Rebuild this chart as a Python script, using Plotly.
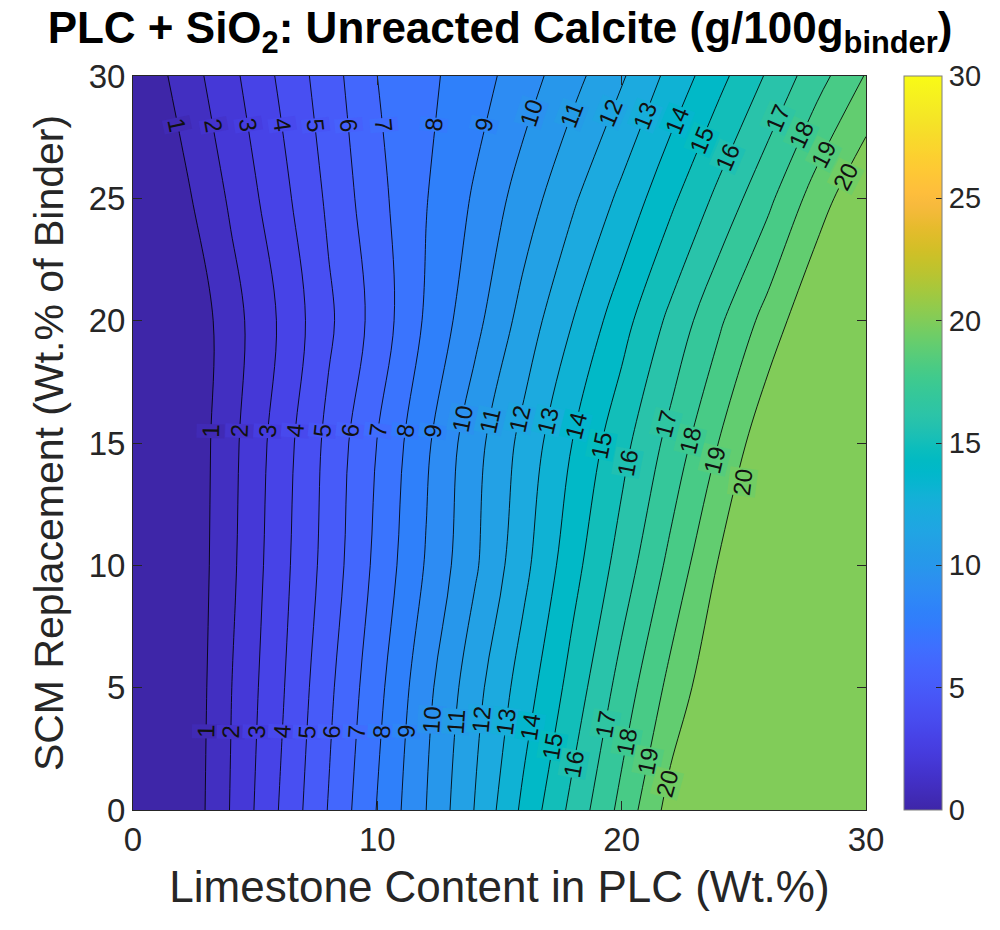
import numpy as np
import plotly.graph_objects as go

# ---------------- data ----------------
limestone = [0, 2, 4, 6, 8, 10, 12, 14, 16, 18, 20, 22, 24, 26, 28, 30]   # x, Wt.%
scm = [0, 5, 10, 15, 20, 25, 30]                                          # y, Wt.% of binder

calcite_scm0 = [0, 0.05, 2.05, 4.05, 6.05, 8.05, 10.0, 12.05, 14.25, 16.3, 18.3, 20.4, 20.4, 20.4, 20.4, 20.4]
calcite_scm5 = [0, 0.0, 1.96, 3.8, 5.77, 7.7, 9.7, 11.65, 13.5, 15.4, 17.4, 19.3, 20.9, 20.9, 20.9, 20.9]
calcite_scm10 = [0, 0.0, 1.78, 3.6, 5.41, 7.27, 9.09, 10.86, 12.73, 14.64, 16.43, 18.27, 20.1, 20.5, 20.5, 20.5]
calcite_scm15 = [0, 0.0, 1.7, 3.45, 5.27, 7.03, 8.82, 10.64, 12.33, 14.03, 15.67, 17.33, 19.04, 20.8, 20.8, 20.8]
calcite_scm20 = [0, 0.0, 1.56, 3.1, 4.8, 6.4, 8.15, 9.7, 11.4, 13.0, 14.6, 16.25, 17.85, 19.4, 20.95, 20.95]
calcite_scm25 = [0, 0.7, 2.15, 3.62, 5.18, 6.7, 7.96, 9.13, 10.47, 11.84, 13.24, 14.77, 16.28, 17.77, 19.5, 20.95]
calcite_scm30 = [0, 1.4, 2.73, 4.14, 5.55, 7.0, 7.77, 8.56, 9.53, 10.67, 11.88, 13.29, 14.71, 16.14, 17.6, 19.07]

contour_levels = list(range(1, 21))
cbar_ticks = [0, 5, 10, 15, 20, 25, 30]
x_ticks = [0, 10, 20, 30]
y_ticks = [0, 5, 10, 15, 20, 25, 30]

# ---------------- style ----------------
PARULA = [
    [0.2422, 0.1504, 0.6603], [0.2504, 0.1650, 0.7076], [0.2578, 0.1818, 0.7511], [0.2647, 0.1978, 0.7952],
    [0.2706, 0.2147, 0.8364], [0.2751, 0.2342, 0.8710], [0.2783, 0.2559, 0.8991], [0.2803, 0.2782, 0.9221],
    [0.2813, 0.3006, 0.9414], [0.2810, 0.3228, 0.9579], [0.2795, 0.3447, 0.9717], [0.2760, 0.3667, 0.9829],
    [0.2699, 0.3892, 0.9906], [0.2602, 0.4123, 0.9952], [0.2440, 0.4358, 0.9988], [0.2206, 0.4603, 0.9973],
    [0.1963, 0.4847, 0.9892], [0.1834, 0.5074, 0.9798], [0.1786, 0.5289, 0.9682], [0.1764, 0.5499, 0.9520],
    [0.1687, 0.5703, 0.9359], [0.1540, 0.5902, 0.9218], [0.1460, 0.6091, 0.9079], [0.1380, 0.6276, 0.8973],
    [0.1248, 0.6459, 0.8883], [0.1113, 0.6635, 0.8763], [0.0952, 0.6798, 0.8598], [0.0689, 0.6948, 0.8394],
    [0.0297, 0.7082, 0.8163], [0.0036, 0.7203, 0.7917], [0.0067, 0.7312, 0.7660], [0.0433, 0.7411, 0.7394],
    [0.0964, 0.7500, 0.7120], [0.1408, 0.7584, 0.6842], [0.1717, 0.7670, 0.6554], [0.1938, 0.7758, 0.6251],
    [0.2161, 0.7843, 0.5923], [0.2470, 0.7918, 0.5567], [0.2906, 0.7973, 0.5188], [0.3406, 0.8008, 0.4789],
    [0.3909, 0.8029, 0.4354], [0.4456, 0.8024, 0.3909], [0.5044, 0.7993, 0.3480], [0.5616, 0.7942, 0.3045],
    [0.6174, 0.7876, 0.2612], [0.6720, 0.7793, 0.2227], [0.7242, 0.7698, 0.1910], [0.7738, 0.7598, 0.1646],
    [0.8203, 0.7498, 0.1535], [0.8634, 0.7406, 0.1596], [0.9035, 0.7330, 0.1774], [0.9393, 0.7288, 0.2100],
    [0.9728, 0.7298, 0.2394], [0.9956, 0.7434, 0.2371], [0.9970, 0.7659, 0.2199], [0.9952, 0.7893, 0.2028],
    [0.9892, 0.8136, 0.1885], [0.9786, 0.8386, 0.1766], [0.9676, 0.8639, 0.1643], [0.9610, 0.8890, 0.1537],
    [0.9597, 0.9135, 0.1423], [0.9628, 0.9373, 0.1265], [0.9691, 0.9606, 0.1064], [0.9769, 0.9839, 0.0805],
]
CMIN, CMAX = 0.0, 30.0


def parula(t):
    t = min(max(t, 0.0), 1.0) * 63
    i = int(np.floor(t))
    j = min(i + 1, 63)
    f = t - i
    c = [(1 - f) * PARULA[i][k] + f * PARULA[j][k] for k in range(3)]
    return "rgb(%d,%d,%d)" % tuple(int(round(255 * v)) for v in c)


AXCOL = "#262626"
FONT = "Liberation Sans"

X = np.array(limestone, dtype=float)
Y = np.array(scm, dtype=float)
Z = np.array([calcite_scm0, calcite_scm5, calcite_scm10, calcite_scm15,
              calcite_scm20, calcite_scm25, calcite_scm30], dtype=float)

# stepped colorscale: plotly fills the band above level L with the colour at
# z=L+0.5 over the domain z = (n_levels+1)*p ; give each band the parula colour of its lower level
lev_start, lev_end, lev_size = 1, 21, 1
nband = lev_end - lev_start + 1  # 21
step_scale = []
for k in range(nband):
    col = parula((k - CMIN) / (CMAX - CMIN))
    step_scale.append([k / nband, col])
    step_scale.append([(k + 1) / nband, col])

fig = go.Figure()
fig.add_trace(go.Contour(
    x=X, y=Y, z=Z,
    autocontour=False,
    contours=dict(start=lev_start, end=lev_end, size=lev_size, coloring="fill", showlabels=False),
    colorscale=step_scale,
    showscale=False,
    line=dict(color="rgba(0,0,0,0.85)", width=1),
    hoverinfo="skip",
))

# continuous colorbar
fig.add_trace(go.Scatter(
    x=[None], y=[None], mode="markers", showlegend=False, hoverinfo="skip",
    marker=dict(
        color=[CMIN], cmin=CMIN, cmax=CMAX,
        colorscale=[[i / 63, parula(i / 63)] for i in range(64)],
        showscale=True,
        colorbar=dict(
            x=(906 - 133) / 735, xanchor="left", xref="paper", xpad=0, ypad=0,
            y=0.5, yanchor="middle", len=1.0, lenmode="fraction",
            thickness=38, thicknessmode="pixels",
            outlinewidth=1, outlinecolor="#7f7f7f",
            tickvals=cbar_ticks, ticks="inside", ticklen=6, tickcolor=AXCOL,
            tickfont=dict(family=FONT, size=29, color=AXCOL),
        ),
    ),
))


# ---------- contour labels (positions derived from the grid) ----------
def row_at(y):
    return np.array([np.interp(y, Y, Z[:, j]) for j in range(len(X))])


def zval(x, y):
    return float(np.interp(x, X, row_at(y)))


label_rows = [3.2, 15.5, 28.0]
label_shift = [0, 0, 0, 0, 0, 0, 0, 0, 0, 0.5, 0.4, 0.5, 0.4, 0.2, -0.6, -1.3, 0.3, -0.4, -1.2, -2.1]
sx = 735 / 30.0
sy = 734 / 30.0
annotations = []
for yr in label_rows:
    for L, dy in zip(contour_levels, label_shift):
        yy = yr + dy
        r = row_at(yy)
        xc = None
        for i in range(len(X) - 1):
            if r[i] != r[i + 1] and (r[i] - L) * (r[i + 1] - L) <= 0:
                xc = X[i] + (L - r[i]) / (r[i + 1] - r[i]) * (X[i + 1] - X[i])
                break
        if xc is None:
            continue
        h = 0.35
        zx = (zval(xc + h, yy) - zval(xc - h, yy)) / (2 * h)
        y_hi, y_lo = min(yy + h, 30), max(yy - h, 0)
        zy = (zval(xc, y_hi) - zval(xc, y_lo)) / (y_hi - y_lo)
        ang = np.degrees(np.arctan2(-zx * sy, zy * sx))
        while ang <= -90:
            ang += 180
        while ang > 90:
            ang -= 180
        annotations.append(dict(
            x=xc, y=yy, xref="x", yref="y", text=str(L), showarrow=False,
            textangle=-ang, font=dict(family=FONT, size=24, color="#111111"),
            bgcolor=parula((L - 0.5 - CMIN) / (CMAX - CMIN)), borderpad=0,
            xanchor="center", yanchor="middle",
        ))

fig.update_layout(
    width=1000, height=930, autosize=False,
    margin=dict(l=133, r=132, t=76, b=120),
    paper_bgcolor="white", plot_bgcolor="white",
    title=dict(
        text="<b>PLC + SiO<sub>2</sub>: Unreacted Calcite (g/100g<sub>binder</sub>)</b>",
        x=0.5, xanchor="center", xref="container",
        y=0.97, yanchor="middle", yref="container",
        font=dict(family=FONT, size=44, color="#000000"),
    ),
    xaxis=dict(
        range=[0, 30], tickvals=x_ticks, showline=True, linecolor=AXCOL, linewidth=1,
        mirror="ticks", ticks="inside", ticklen=9, tickcolor=AXCOL, showgrid=False, zeroline=False,
        tickfont=dict(family=FONT, size=33, color=AXCOL),
        title=dict(text="Limestone Content in PLC (Wt.%)", standoff=14,
                   font=dict(family=FONT, size=44, color=AXCOL)),
    ),
    yaxis=dict(
        range=[0, 30], tickvals=y_ticks, showline=True, linecolor=AXCOL, linewidth=1,
        mirror="ticks", ticks="inside", ticklen=9, tickcolor=AXCOL, showgrid=False, zeroline=False,
        tickfont=dict(family=FONT, size=33, color=AXCOL),
        title=dict(text="SCM Replacement (Wt.% of Binder)", standoff=12,
                   font=dict(family=FONT, size=41, color=AXCOL)),
    ),
    annotations=annotations,
    showlegend=False,
)

fig.write_html("out.html")
